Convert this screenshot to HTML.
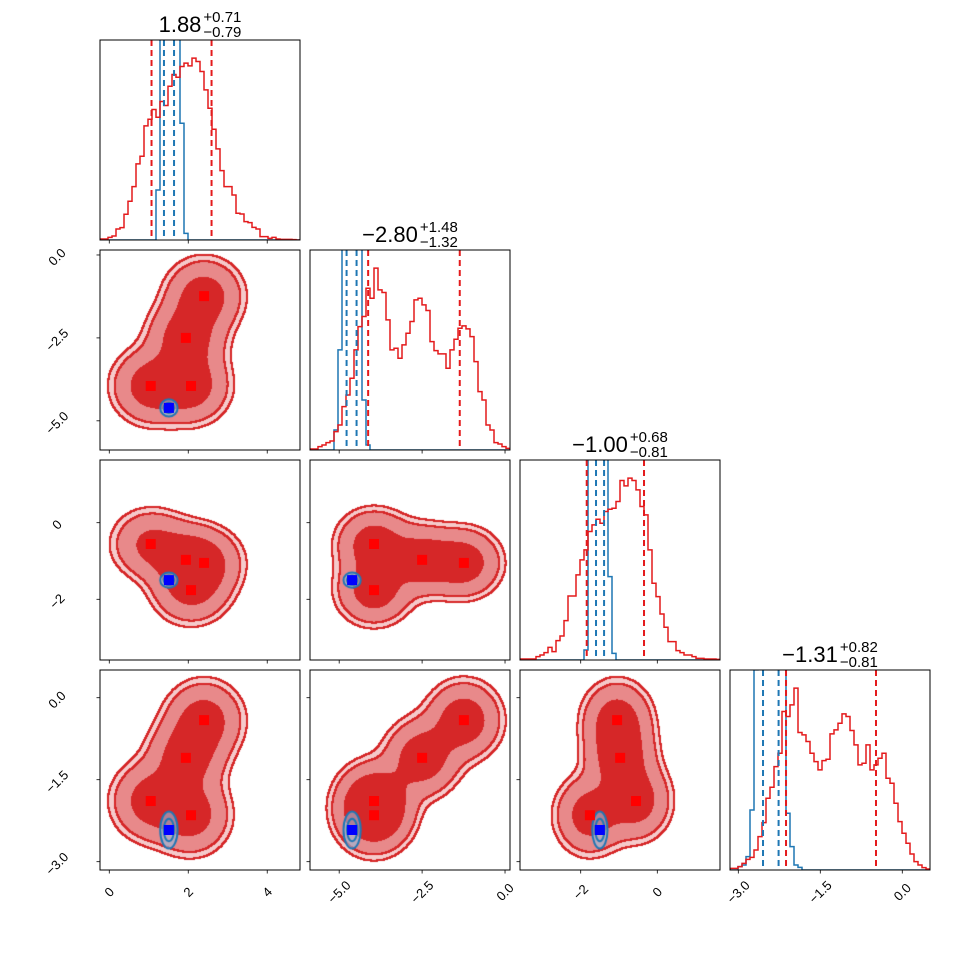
<!DOCTYPE html>
<html><head><meta charset="utf-8"><style>
html,body{margin:0;padding:0;background:#fff;}
#wrap{position:relative;width:970px;height:970px;}
canvas,svg{position:absolute;left:0;top:0;}
text{font-family:"Liberation Sans",sans-serif;}
</style></head><body>
<div id="wrap">
<canvas id="cv" width="970" height="970"></canvas>
<svg id="sv" width="970" height="970" xmlns="http://www.w3.org/2000/svg"></svg>
</div>
<script>
// axis ranges per parameter
const rangeP0=[-0.235,4.83], rangeP1=[-5.88,0.15], rangeP2=[-3.585,1.637], rangeP3=[-3.152,0.507];
const R=[rangeP0,rangeP1,rangeP2,rangeP3];
// red histogram bin counts (50 bins each)
const redHist0=[3,3,8,12,33,37,77,116,160,228,251,342,362,391,368,415,403,461,496,488,520,530,522,545,535,505,450,395,332,273,208,160,160,135,80,78,55,52,38,33,10,10,5,8,3,2,2,2,1,0];
const redHist1=[3,3,10,15,22,27,55,75,130,165,215,300,370,400,485,455,545,480,472,390,300,305,275,315,350,385,450,455,435,418,325,298,288,288,245,300,332,365,372,363,340,265,175,150,75,60,22,18,10,5];
const redHist2=[3,3,3,3,10,15,22,38,25,58,72,118,192,192,255,300,330,385,405,422,410,445,452,455,475,538,522,545,538,510,460,435,330,230,190,138,98,55,55,28,22,15,15,10,5,5,3,3,3,2];
const redHist3=[5,5,10,20,32,38,60,100,142,215,248,310,350,475,460,495,545,412,405,385,350,325,300,328,332,408,420,440,468,460,418,375,315,320,375,300,315,335,350,275,260,200,145,110,80,48,25,15,7,3];
// blue histogram bin counts (clipped at top)
const blueHist0=[0,0,0,0,0,0,0,0,0,0,0,0,0,0,150,2000,2000,2000,2000,2000,350,20,0,0,0,0,0,0,0,0,0,0,0,0,0,0,0,0,0,0,0,0,0,0,0,0,0,0,0,0];
const blueHist1=[0,0,0,0,0,0,60,300,2000,2000,2000,2000,2000,150,15,0,0,0,0,0,0,0,0,0,0,0,0,0,0,0,0,0,0,0,0,0,0,0,0,0,0,0,0,0,0,0,0,0,0,0];
const blueHist2=[0,0,0,0,0,0,0,0,0,0,0,0,0,0,0,0,30,800,2000,2000,2000,2000,250,20,0,0,0,0,0,0,0,0,0,0,0,0,0,0,0,0,0,0,0,0,0,0,0,0,0,0];
const blueHist3=[0,0,10,15,40,180,600,2000,2000,2000,2000,2000,2000,2000,170,70,15,8,0,0,0,0,0,0,0,0,0,0,0,0,0,0,0,0,0,0,0,0,0,0,0,0,0,0,0,0,0,0,0,0];
const redHists=[redHist0,redHist1,redHist2,redHist3];
const blueHists=[blueHist0,blueHist1,blueHist2,blueHist3];
// quantile lines (16%, 84%)
const redQ=[[1.07,2.59],[-4.127,-1.365],[-1.843,-0.347],[-2.127,-0.481]];
const blueQ=[[1.385,1.64],[-4.777,-4.476],[-1.60,-1.39],[-2.548,-2.263]];
// titles
const titleMed=["1.88","\u22122.80","\u22121.00","\u22121.31"];
const titleUp=["+0.71","+1.48","+0.68","+0.82"];
const titleLo=["\u22120.79","\u22121.32","\u22120.81","\u22120.81"];
// red mode markers (4 points in 4D)
const peakP0=[2.4,1.94,1.05,2.07];
const peakP1=[-1.24,-2.5,-3.95,-3.95];
const peakP2=[-1.05,-0.97,-0.556,-1.76];
const peakP3=[-0.41,-1.10,-1.89,-2.15];
const peaks=[peakP0,peakP1,peakP2,peakP3];
const peakSigma=[0.52,0.6,0.48,0.38];
const bluePoint=[1.51,-4.61,-1.50,-2.42];
const blueSigma=[0.11,0.13,0.1,0.17];
const massLevels=[0.65,0.9,0.95];
// ticks
const ticks=[[0,2,4],[-5,-2.5,0],[-2,0],[-3,-1.5,0]];
const tickLabels=[["0","2","4"],["\u22125.0","\u22122.5","0.0"],["\u22122","0"],["\u22123.0","\u22121.5","0.0"]];

const N=4,S=200,G=210,X0=100,Y0=40;
function sx(j,v){return X0+G*j+(v-R[j][0])/(R[j][1]-R[j][0])*S;}
function sy(i,v){return Y0+G*i+(R[i][1]-v)/(R[i][1]-R[i][0])*S;}
const svg=document.getElementById('sv');
const NS="http://www.w3.org/2000/svg";
function mk(tag,attrs,parent){const e=document.createElementNS(NS,tag);for(const k in attrs)e.setAttribute(k,attrs[k]);(parent||svg).appendChild(e);return e;}

// ---- contours on canvas ----
const cv=document.getElementById('cv');const ctx=cv.getContext('2d');
for(let i=1;i<N;i++)for(let j=0;j<i;j++){
  const px=X0+G*j,py=Y0+G*i;
  const E=100,W=S+2*E;
  const d=new Float64Array(W*W);
  for(let yy=0;yy<W;yy++){const vy=R[i][1]-(yy-E+0.5)/S*(R[i][1]-R[i][0]);
    for(let xx=0;xx<W;xx++){const vx=R[j][0]+(xx-E+0.5)/S*(R[j][1]-R[j][0]);
      let s=0;for(let k=0;k<peakP0.length;k++){const dx=(vx-peaks[j][k])/peakSigma[j],dy=(vy-peaks[i][k])/peakSigma[i];s+=Math.exp(-0.5*(dx*dx+dy*dy));}
      d[yy*W+xx]=s;}}
  const sorted=Array.from(d).sort((a,b)=>b-a);const tot=sorted.reduce((a,b)=>a+b,0);
  const th=[];let acc=0,li=0;
  for(let q=0;q<sorted.length&&li<3;q++){acc+=sorted[q];while(li<3&&acc>=massLevels[li]*tot){th[li]=sorted[q];li++;}}
  while(th.length<3)th.push(0);
  const lev=new Uint8Array(S*S);
  for(let yy=0;yy<S;yy++)for(let xx=0;xx<S;xx++){const v=d[(yy+E)*W+xx+E];lev[yy*S+xx]=v>=th[0]?3:v>=th[1]?2:v>=th[2]?1:0;}
  const img=ctx.createImageData(S,S);
  const cols=[[255,255,255],[245,202,203],[232,137,138],[214,39,40]];
  for(let yy=0;yy<S;yy++)for(let xx=0;xx<S;xx++){
    const q=yy*S+xx;const L=lev[q];let c=cols[L];
    for(const LL of [1,2]){
      let edge=false;
      for(let oy=-1;oy<=1&&!edge;oy++)for(let ox=-1;ox<=1;ox++){const nx=xx+ox,ny=yy+oy;if(nx<0||ny<0||nx>=S||ny>=S)continue;
        const n=lev[ny*S+nx];if((L>=LL)!==(n>=LL)){edge=true;break;}}
      if(edge)c=[214,39,40];}
    img.data[q*4]=c[0];img.data[q*4+1]=c[1];img.data[q*4+2]=c[2];img.data[q*4+3]=255;}
  ctx.putImageData(img,px,py);
  const bx=sx(j,bluePoint[j]),by=sy(i,bluePoint[i]);
  const rx=blueSigma[j]/(R[j][1]-R[j][0])*S,ry=blueSigma[i]/(R[i][1]-R[i][0])*S;
  ctx.save();ctx.beginPath();ctx.rect(px,py,S,S);ctx.clip();
  ctx.fillStyle='rgba(150,190,225,0.6)';ctx.beginPath();ctx.ellipse(bx,by,rx*2,ry*2,0,0,Math.PI*2);ctx.fill();
  ctx.strokeStyle='#1f77b4';ctx.lineWidth=2;
  for(const m of [1.2,2]){ctx.beginPath();ctx.ellipse(bx,by,rx*m,ry*m,0,0,Math.PI*2);ctx.stroke();}
  ctx.restore();
}

// ---- axes ----
for(let i=0;i<N;i++)for(let j=0;j<=i;j++){
  const px=X0+G*j,py=Y0+G*i;
  const g=mk('g',{});
  
  
  if(i===j){
    const red=redHists[i],blue=blueHists[i];const ymax=1.1*Math.max(...red);
    const lo=R[i][0],w=(R[i][1]-R[i][0])/red.length;
    const hy=v=>py+S-Math.min(v,ymax*1.2)/ymax*S;
    const clipId='clip'+i;
    const cp=mk('clipPath',{id:clipId},g);mk('rect',{x:px,y:py,width:S,height:S},cp);
    for(const [arr,col,nm] of [[blue,'#1f77b4','blue-histogram'],[red,'#e41a1c','red-histogram']]){
      let dstr='M'+sx(i,lo)+','+(py+S);
      arr.forEach((c,k)=>{dstr+=' L'+sx(i,lo+k*w)+','+hy(c)+' L'+sx(i,lo+(k+1)*w)+','+hy(c);});
      dstr+=' L'+sx(i,R[i][1])+','+(py+S);
      const p=mk('path',{d:dstr,fill:'none',stroke:col,'stroke-width':1.5,'clip-path':'url(#'+clipId+')'},g);
      
      
    }
    for(const [qs,col,nm] of [[blueQ[i],'#1f77b4','blue-quantile-line'],[redQ[i],'#e41a1c','red-quantile-line']])
      qs.forEach(q=>{const l=mk('line',{x1:sx(i,q),x2:sx(i,q),y1:py,y2:py+S,stroke:col,'stroke-width':2,'stroke-dasharray':'6,4'},g);
        
        });
    const t=mk('text',{y:py-8,'font-size':22,fill:'#000'},g);t.textContent=titleMed[i];
    
    
    const tu=mk('text',{y:py-18,'font-size':15,fill:'#000'},g);tu.textContent=titleUp[i];
    const tl=mk('text',{y:py-3,'font-size':15,fill:'#000'},g);tl.textContent=titleLo[i];
    const wm=t.getComputedTextLength(),ws=Math.max(tu.getComputedTextLength(),tl.getComputedTextLength());
    const start=px+S/2-(wm+2+ws)/2;
    t.setAttribute('x',start);tu.setAttribute('x',start+wm+2);tl.setAttribute('x',start+wm+2);
  } else {
    for(let k=0;k<peakP0.length;k++){
      const r=mk('rect',{x:sx(j,peaks[j][k])-5,y:sy(i,peaks[i][k])-5,width:10,height:10,fill:'#ff0000'},g);
      
      
    }
    const b=mk('rect',{x:sx(j,bluePoint[j])-5,y:sy(i,bluePoint[i])-5,width:10,height:10,fill:'#0000ff'},g);
    
    
    ticks[i].forEach((v,k)=>{const y=sy(i,v);mk('line',{x1:px,x2:px-3.5,y1:y,y2:y,stroke:'#000','stroke-width':0.8},g);
      if(j===0){const tx=mk('text',{'font-size':13,'text-anchor':'middle','dominant-baseline':'central',transform:'translate(57,'+(y+2)+') rotate(-45)'},g);tx.textContent=tickLabels[i][k];
        
        }});
  }
  ticks[j].forEach((v,k)=>{const x=sx(j,v);mk('line',{x1:x,x2:x,y1:py+S,y2:py+S+3.5,stroke:'#000','stroke-width':0.8},g);
    if(i===N-1){const tx=mk('text',{'font-size':13,'text-anchor':'middle','dominant-baseline':'central',transform:'translate('+x+',892) rotate(-45)'},g);tx.textContent=tickLabels[j][k];
      
      }});
  const fr=mk('rect',{x:px,y:py,width:S,height:S,fill:'none',stroke:'#000','stroke-width':1},g);
  
  
}
</script>
</body></html>
